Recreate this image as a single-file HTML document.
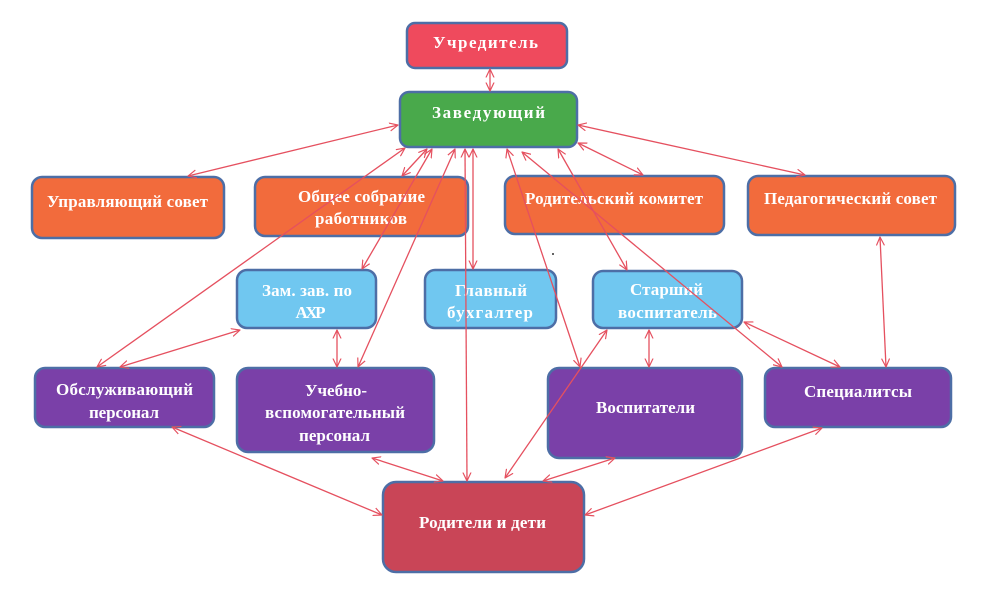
<!DOCTYPE html>
<html>
<head>
<meta charset="utf-8">
<style>
html,body{margin:0;padding:0;background:#fff;}
svg{display:block;}
text{font-family:"Liberation Serif","DejaVu Serif",serif;font-weight:bold;fill:#fff;font-size:17px;}
</style>
</head>
<body>
<svg width="985" height="595" viewBox="0 0 985 595" xmlns="http://www.w3.org/2000/svg">
<defs>
<marker id="a" viewBox="0 0 10 10" refX="9.5" refY="5" markerWidth="9" markerHeight="9" markerUnits="userSpaceOnUse" orient="auto-start-reverse">
<path d="M0,0.5 L9.5,5 L0,9.5" fill="none" stroke="#e5505f" stroke-width="1.3"/>
</marker>
</defs>
<g stroke="#4d6ea6" stroke-width="2.5">
<rect x="407" y="23" width="160" height="45" rx="8" fill="#ef4a5d"/>
<rect x="400" y="92" width="177" height="55" rx="9" fill="#49a94b"/>
<rect x="32" y="177" width="192" height="61" rx="10" fill="#f26b3c"/>
<rect x="255" y="177" width="213" height="59" rx="10" fill="#f26b3c"/>
<rect x="505" y="176" width="219" height="58" rx="10" fill="#f26b3c"/>
<rect x="748" y="176" width="207" height="59" rx="10" fill="#f26b3c"/>
<rect x="237" y="270" width="139" height="58" rx="10" fill="#70c7f0"/>
<rect x="425" y="270" width="131" height="58" rx="10" fill="#70c7f0"/>
<rect x="593" y="271" width="149" height="57" rx="10" fill="#70c7f0"/>
<rect x="35" y="368" width="179" height="59" rx="10" fill="#7a40a8"/>
<rect x="237" y="368" width="197" height="84" rx="11" fill="#7a40a8"/>
<rect x="548" y="368" width="194" height="90" rx="11" fill="#7a40a8"/>
<rect x="765" y="368" width="186" height="59" rx="10" fill="#7a40a8"/>
<rect x="383" y="482" width="201" height="90" rx="13" fill="#c94557"/>
</g>
<g text-anchor="middle">
<text x="485.5" y="48" font-size="19" textLength="105">Учредитель</text>
<text x="488.5" y="118" font-size="19" textLength="113">Заведующий</text>
<text x="127.5" y="207" textLength="161">Управляющий совет</text>
<text x="361.5" y="202" textLength="127">Общее собрание</text>
<text x="361" y="224" textLength="92">работников</text>
<text x="307" y="296" textLength="90">Зам. зав. по</text>
<text x="310.5" y="318" textLength="30">АХР</text>
<text x="491" y="296" textLength="72">Главный</text>
<text x="490" y="318" textLength="86">бухгалтер</text>
<text x="614" y="204" textLength="178">Родительский комитет</text>
<text x="850.5" y="204" textLength="173">Педагогический совет</text>
<text x="666.5" y="295" textLength="73">Старший</text>
<text x="667.5" y="318" textLength="99">воспитатель</text>
<text x="124.5" y="395" textLength="137">Обслуживающий</text>
<text x="124" y="418" textLength="70">персонал</text>
<text x="336" y="396" textLength="62">Учебно-</text>
<text x="335" y="418" textLength="140">вспомогательный</text>
<text x="334.5" y="441" textLength="71">персонал</text>
<text x="645.5" y="413" textLength="99">Воспитатели</text>
<text x="858" y="397" textLength="108">Специалитсы</text>
<text x="482.5" y="528" textLength="127">Родители и дети</text>
</g>
<g stroke="#e5505f" stroke-width="1.3" fill="none" marker-start="url(#a)" marker-end="url(#a)">
<line x1="490" y1="69" x2="490" y2="91"/>
<line x1="398" y1="125" x2="188" y2="176"/>
<line x1="405" y1="148" x2="97" y2="367"/>
<line x1="427" y1="149" x2="402" y2="176"/>
<line x1="432" y1="149" x2="362" y2="269"/>
<line x1="455" y1="149" x2="358" y2="367"/>
<line x1="465" y1="149" x2="467" y2="481"/>
<line x1="473" y1="149" x2="473" y2="269"/>
<line x1="578" y1="125" x2="805" y2="175"/>
<line x1="578" y1="143" x2="643" y2="175"/>
<line x1="507" y1="149" x2="580" y2="367"/>
<line x1="522" y1="152" x2="782" y2="367"/>
<line x1="558" y1="149" x2="627" y2="270"/>
<line x1="880" y1="237" x2="886" y2="367"/>
<line x1="744" y1="322" x2="840" y2="367"/>
<line x1="649" y1="330" x2="649" y2="367"/>
<line x1="607" y1="330" x2="505" y2="478"/>
<line x1="240" y1="330" x2="120" y2="367"/>
<line x1="337" y1="330" x2="337" y2="367"/>
<line x1="172" y1="427" x2="382" y2="515"/>
<line x1="372" y1="458" x2="443" y2="481"/>
<line x1="615" y1="458" x2="543" y2="481"/>
<line x1="822" y1="428" x2="585" y2="515"/>
</g>
<circle cx="553" cy="254" r="1" fill="#333"/>
</svg>
</body>
</html>
